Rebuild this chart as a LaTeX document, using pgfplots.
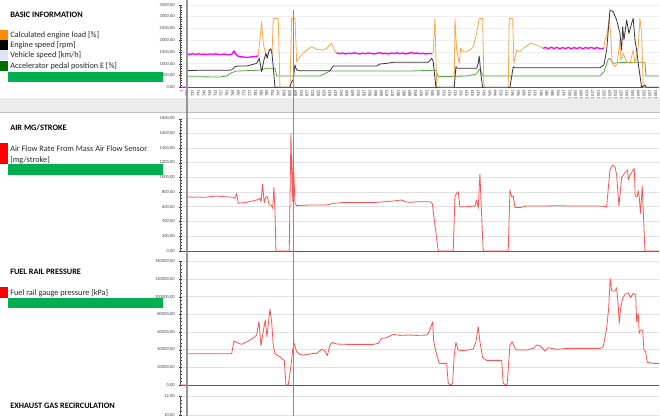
\documentclass[border=0pt]{standalone}
\usepackage{pgfplots}
\pgfplotsset{compat=1.18}
\usepackage{fontspec}
\setmainfont{Carlito}
\definecolor{cOrange}{RGB}{248,168,78}
\definecolor{cBlack}{RGB}{55,55,55}
\definecolor{cGreen}{RGB}{84,168,70}
\definecolor{cMag}{RGB}{255,0,255}
\definecolor{cRed}{RGB}{250,85,85}
\definecolor{sqOrange}{RGB}{255,140,0}
\definecolor{sqBlue}{RGB}{220,230,242}
\definecolor{sqGreen}{RGB}{0,112,0}
\definecolor{barGreen}{RGB}{0,176,80}
\definecolor{gridgray}{RGB}{226,226,226}
\definecolor{axisgray}{RGB}{90,90,90}
\definecolor{labgray}{RGB}{70,70,70}
\definecolor{bandgray}{RGB}{236,236,236}
\definecolor{cursorBlue}{RGB}{110,140,210}
\definecolor{cursorGray}{RGB}{150,150,150}
\definecolor{txt}{RGB}{40,40,40}
\pgfplotsset{
 panel/.style={
  scale only axis, width=358.7pt, xmin=728.6, xmax=1063.4, enlargelimits=false,
  axis x line*=bottom, axis y line*=left,
  axis line style={-,draw=axisgray,line width=0.7pt},
  ymajorgrids, major grid style={draw=gridgray,line width=0.7pt},
  ytick style={draw=black!80,line width=0.3pt}, minor y tick num=4,
  major tick length=2pt, minor tick length=1.6pt, tick align=center,
  yticklabel style={font=\fontsize{3.4}{4}\selectfont, text=labgray,
    /pgf/number format/.cd, fixed, fixed zerofill, precision=2, use comma, 1000 sep={}, assume math mode=true},
  scaled y ticks=false,
  xtick style={draw=none},
  clip=false,
  every axis plot/.append style={line width=0.6pt, line join=round},
 }
}
\begin{document}
\begin{tikzpicture}
\useasboundingbox (0,0) rectangle (495pt,-312pt);
\clip (0,0) rectangle (495pt,-312pt);
\fill[white] (0,0) rectangle (495pt,-312pt);
% separator band
\fill[bandgray] (0,-73.2pt) rectangle (495pt,-84pt);
\draw[black!25,line width=0.6pt] (0,-84pt)--(495pt,-84pt);

% ---------- left panel texts ----------
\begin{scope}[every node/.style={anchor=west,inner sep=0pt,text=txt,font=\fontsize{6.2}{7}\selectfont}]
\node[font=\fontsize{6.2}{7}\selectfont\bfseries,text=black] at (7.5pt,-11.25pt) {BASIC INFORMATION};
\fill[sqOrange] (0,-22.5pt) rectangle (6pt,-30pt);
\node at (7.5pt,-26.25pt) {Calculated engine load [\%]};
\fill[black] (0,-30pt) rectangle (6pt,-37.5pt);
\node at (7.5pt,-33.75pt) {Engine speed [rpm]};
\fill[sqBlue] (0,-37.5pt) rectangle (6pt,-45pt);
\node at (7.5pt,-41.25pt) {Vehicle speed [km/h]};
\fill[sqGreen] (0,-45.75pt) rectangle (6pt,-53.25pt);
\node at (7.5pt,-49.5pt) {Accelerator pedal position E [\%]};
\fill[barGreen] (6pt,-54pt) rectangle (122.25pt,-61.5pt);

\node[font=\fontsize{6.2}{7}\selectfont\bfseries,text=black] at (7.5pt,-96pt) {AIR MG/STROKE};
\fill[red] (0,-107.25pt) rectangle (6pt,-123pt);
\node at (7.5pt,-111.75pt) {Air Flow Rate From Mass Air Flow Sensor};
\node at (7.5pt,-120pt) {[mg/stroke]};
\fill[barGreen] (6pt,-123pt) rectangle (122.25pt,-131.25pt);

\node[font=\fontsize{6.2}{7}\selectfont\bfseries,text=black] at (7.5pt,-204pt) {FUEL RAIL PRESSURE};
\fill[red] (0,-215.25pt) rectangle (6pt,-223.5pt);
\node at (7.5pt,-219.75pt) {Fuel rail gauge pressure [kPa]};
\fill[barGreen] (6pt,-223.5pt) rectangle (122.25pt,-231pt);

\node[font=\fontsize{6.2}{7}\selectfont\bfseries,text=black] at (7.5pt,-304.5pt) {EXHAUST GAS RECIRCULATION};
\end{scope}

% ---------- BASIC INFORMATION ----------
\begin{axis}[panel, at={(135.5pt,-65.5pt)}, anchor=south west, height=61.7pt,
  ymin=0, ymax=3500, ytick={0,500,...,3500},
  major grid style={draw=gridgray!60,line width=0.6pt},
  xtick={729.3,733,737,...,1061},
  xticklabel={\pgfmathtruncatemacro\isfirst{\tick<731}\ifnum\isfirst=1 1\else\pgfmathprintnumber[fixed,precision=0,1000 sep={},assume math mode=true]{\tick}\fi},
  xticklabel style={rotate=90,anchor=east,font=\fontsize{3.4}{4}\selectfont,text=labgray,inner sep=0.8pt},
]
% accelerator pedal
\addplot[cGreen] coordinates {(733.2,453)(756.1,439)(760.8,482)(764.3,623)(767.8,694)(781.8,723)(784.1,737)(788.8,808)(794.6,808)(795.8,482)(805,482)(826.1,482)(833.1,694)(889.1,694)(904.3,723)(907.3,737)(908.9,453)(928.8,482)(935.8,567)(936.9,709)(938.1,779)(940.4,482)(1022.1,482)(1024.9,666)(1027.9,1190)(1029.1,1233)(1031.4,1020)(1033.8,1048)(1045.4,1063)(1053.6,1063)(1054.3,482)(1063.4,482)};
% calculated engine load (orange parts)
\addplot[cOrange] coordinates {(782.9,1340)(785.3,2791)(786.4,1870)(788.3,1374)(789.2,1304)(790.6,1587)(791.8,1658)(792.6,1450)(793.4,2933)(796.9,2933)(798.1,0)(805.1,0)(806.3,2933)(808.6,2933)(809.8,1091)(812.1,1304)(816.8,1587)(820.3,1729)(823.8,1615)(828.4,1587)(830.8,1658)(834.3,1870)(836.6,1516)(837.7,1474)};
\addplot[cOrange] coordinates {(904.7,1430)(905.4,1500)(906.6,2933)(907.8,0)(910.1,0)};
\addplot[cOrange] coordinates {(919.4,0)(920.1,0)(920.6,2933)(921.8,1587)(923.6,1020)(924.6,1658)(926.4,1516)(928.8,1516)(931.1,1587)(933.4,1729)(935.8,2296)(937.6,2933)(940,2933)(940.9,0)(941.6,0)};
\addplot[cOrange] coordinates {(956.8,0)(957.9,0)(958.6,2933)(961,2933)(961.9,1020)(963.8,1587)(966.1,1516)(968.4,1658)(970.8,1757)(973.1,1870)(976.6,1828)(980.1,1729)(982.4,1658)};
\addplot[cOrange] coordinates {(1024.9,1658)(1025.6,2012)(1027.2,2296)(1028.6,2933)(1029.6,2296)(1030.7,1020)(1032.6,879)(1034.2,1020)(1036.1,2012)(1036.8,1162)(1038.4,1445)(1040.8,1091)(1043.1,1020)(1045.4,1587)(1046.6,1020)(1048.9,1729)(1050.1,2933)(1051.3,2296)(1052.4,0)(1063.4,0)};
% engine speed
\addplot[cBlack] coordinates {(733.2,709)(740,723)(750,723)(760,723)(764.3,737)(766.6,879)(768.9,907)(774.8,907)(781.8,1020)(783.6,1233)(785.3,666)(786.9,1162)(788.3,1445)(789.2,1233)(790.6,1587)(791.6,1615)(792.5,1445)(793.4,879)(794.6,0)(805.1,0)(806.3,241)(807.4,312)(808.6,949)(809.8,737)(812.1,709)(833.1,709)(835.4,907)(865.8,907)(868.1,992)(872.8,1020)(877.4,1063)(901.9,1063)(904.3,1233)(905.4,1091)(907.3,0)(920.1,0)(921.3,879)(922.2,808)(935.8,808)(936.9,1020)(937.6,1332)(938.8,524)(940,0)(959.1,0)(961.4,879)(962.6,836)(1022.1,836)(1024.9,949)(1026.8,1587)(1029.1,3287)(1031.4,3217)(1033.8,2862)(1036.1,2296)(1037.3,1587)(1038,2579)(1038.9,2012)(1040.8,2862)(1042.4,2296)(1044.3,2721)(1045.4,2933)(1046.6,2012)(1047.8,1587)(1048.9,1020)(1051.3,0)(1053.6,99)(1054.5,0)(1063.4,0)};
% calculated engine load (highlighted parts)
\addplot[cMag,line width=1pt] coordinates {(729,0)(733.1,0)(733.1,1420)(735,1400)(737,1430)(739,1405)(741,1425)(743,1400)(745,1415)(747,1395)(749,1420)(751,1400)(753,1425)(755,1405)(757,1395)(759,1415)(761,1400)(763,1390)(764.5,1410)(765.9,1550)(767,1420)(768.9,1320)(771,1300)(773,1290)(775,1270)(777,1290)(779,1300)(781,1310)(782.9,1340)};
\addplot[cMag,line width=1pt] coordinates {(837.7,1474)(840,1430)(842,1460)(844,1420)(846,1450)(848,1430)(850,1470)(852,1440)(854,1420)(856,1450)(858,1430)(860,1460)(862,1440)(864,1420)(866,1450)(868,1470)(870,1430)(872,1450)(874,1420)(876,1460)(878,1440)(880,1470)(882,1430)(884,1460)(886,1420)(888,1450)(890,1480)(892,1440)(894,1460)(896,1430)(898,1450)(900,1420)(902,1440)(904.7,1430)};
\addplot[cMag,line width=1pt] coordinates {(910.1,0)(919.4,0)};
\addplot[cMag,line width=1pt] coordinates {(941.6,0)(956.8,0)};
\addplot[cMag,line width=1pt] coordinates {(982.4,1658)(984,1700)(986,1640)(988,1710)(990,1650)(992,1700)(994,1640)(996,1690)(998,1650)(1000,1700)(1002,1640)(1004,1690)(1006,1650)(1008,1700)(1010,1640)(1012,1690)(1014,1660)(1016,1700)(1018,1650)(1020,1690)(1022,1650)(1024.9,1658)};
\end{axis}

% ---------- AIR MG/STROKE ----------
\begin{axis}[panel, at={(135.5pt,-188.25pt)}, anchor=south west, height=99.2pt,
  ymin=0, ymax=1800, ytick={0,200,...,1800}, xtick=\empty]
\addplot[cRed] coordinates {(733.2,739)(737.4,730)(741,735)(745,730)(749.1,739)(753.8,748)(758,740)(763.1,735)(765.4,730)(766.6,717)(767.8,785)(768.9,649)(774.8,662)(781.8,694)(784.1,717)(784.8,671)(785.9,912)(787.1,658)(788.3,739)(789.2,739)(790.6,626)(791.8,626)(793,580)(793.9,866)(794.6,558)(795.3,0)(804.6,0)(805.8,1601)(806.7,671)(807.4,1283)(808.6,649)(809.8,617)(819.1,626)(830.8,626)(835.4,649)(842.4,658)(854.1,658)(865.8,662)(877.4,680)(883.3,694)(885.6,671)(889.1,662)(893.8,671)(900.8,671)(903.1,671)(904.7,649)(908.9,0)(919.4,0)(920.6,739)(921.8,785)(922.9,807)(924.1,603)(928.8,603)(934.6,612)(935.8,694)(936.9,580)(938.1,1048)(938.8,694)(940.4,0)(957.9,0)(959.1,830)(960.3,739)(961.4,748)(962.6,594)(966.1,590)(970.8,612)(982.4,612)(994.1,617)(998.8,612)(1010.4,612)(1022.1,612)(1026.8,603)(1029.1,1102)(1031,1170)(1032.6,1147)(1033.8,1034)(1035.4,612)(1037.3,1002)(1038.4,1034)(1040.3,1079)(1041.5,1102)(1041.9,966)(1043.1,1034)(1044.7,1079)(1046.1,1125)(1046.8,739)(1048.2,739)(1048.9,821)(1049.6,739)(1050.5,512)(1051.7,884)(1053.6,0)(1063.4,0)};
\end{axis}

% ---------- FUEL RAIL PRESSURE ----------
\begin{axis}[panel, at={(135.5pt,-288.75pt)}, anchor=south west, height=92.5pt,
  ymin=0, ymax=140000, ytick={0,20000,...,140000}, xtick=\empty]
\addplot[cRed] coordinates {(728.6,0)(733,0)(733.2,35532)(764.3,35532)(765.9,49896)(767.8,48384)(771.3,46116)(775.9,49896)(780.6,54810)(781.8,56700)(783.4,71820)(784.8,44604)(786.4,60480)(787.8,73710)(789,54810)(791.1,86184)(792.3,71820)(793.4,45360)(794.6,35154)(798.1,32130)(800.4,28350)(801.1,28350)(802.3,0)(803.9,0)(805.6,18900)(807,39690)(808.1,47250)(809.8,37800)(812.1,34776)(814.4,34020)(819.1,35154)(821.4,35910)(823.8,35910)(827.3,40446)(829.6,38556)(831.2,33264)(833.1,45360)(834.7,48384)(837.7,46494)(844.8,46116)(863.4,46116)(866.9,47250)(869.2,52920)(872.8,53676)(877.4,57456)(882.1,56322)(887.9,56700)(893.8,56322)(900.8,56700)(902.6,60480)(905,71820)(905.7,49896)(907.3,37800)(909.6,24570)(914.8,24570)(915.9,1890)(917.6,0)(919,1890)(920.1,34020)(921.3,48384)(922.9,39690)(925.3,38934)(929.9,39690)(933.4,40824)(935.3,49140)(936.9,66150)(938.1,49140)(940,30996)(942.8,27972)(953.3,27972)(954.4,1890)(956.3,0)(957.2,1890)(959.1,45360)(960.7,49140)(962.1,43470)(963.8,39690)(970.8,39690)(975.4,41580)(977.8,45360)(980.1,44604)(982,41580)(983.6,38556)(985.9,42336)(991.8,40446)(998.8,41580)(1022.1,41580)(1024.4,43470)(1026.8,64260)(1028.2,86940)(1029.3,120960)(1030.3,106596)(1032.6,106596)(1033.8,110376)(1034.9,90720)(1035.6,69930)(1036.5,86940)(1038,98280)(1039.6,102816)(1041.9,104706)(1043.5,99036)(1045.4,103950)(1047.1,102816)(1047.8,71820)(1048.9,81270)(1049.6,58590)(1050.5,62370)(1052,62370)(1052.9,39690)(1054.1,37800)(1055.2,25704)(1059.4,24570)(1063.4,24570)};
\end{axis}

% ---------- EXHAUST GAS RECIRCULATION ----------
\begin{axis}[panel, at={(135.5pt,-382.5pt)}, anchor=south west, height=85.5pt,
  ymin=0, ymax=12, ytick={10,12}, xtick=\empty]
\end{axis}

% cursor lines
\draw[cursorGray,line width=0.8pt] (140.25pt,0)--(140.25pt,-312pt);
\draw[cursorBlue,line width=0.7pt] (219.9pt,-7.5pt)--(219.9pt,-312pt);
\end{tikzpicture}
\end{document}
